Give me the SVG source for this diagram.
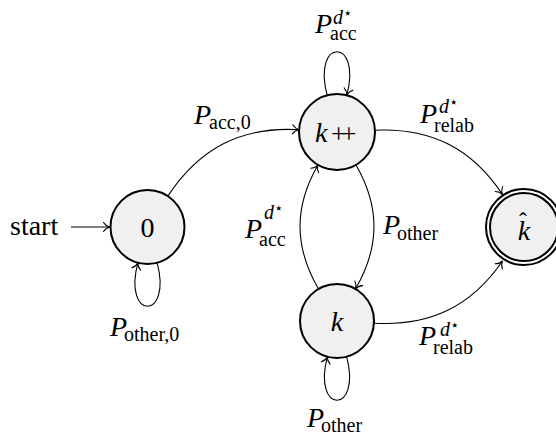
<svg xmlns="http://www.w3.org/2000/svg" width="556" height="439" viewBox="0 0 556 439" font-family="'Liberation Serif', 'DejaVu Serif', serif">
  <defs>
    <marker id="tip" viewBox="-8 -6 10 12" markerWidth="10" markerHeight="12" refX="0" refY="0" orient="auto" markerUnits="userSpaceOnUse">
      <path d="M -6.5,-4.5 C -4.5,-1.6 -1.6,-0.3 0,0 C -1.6,0.3 -4.5,1.6 -6.5,4.5" fill="none" stroke="#000" stroke-width="1.1" stroke-linecap="round"/>
    </marker>
    <style>
      .node { fill: #f0f0f0; stroke: #000; stroke-width: 2; }
      .edge { fill: none; stroke: #000; stroke-width: 1.1; marker-end: url(#tip); }
      text { font-family: "Liberation Serif", "DejaVu Serif", serif; fill: #000; }
      .big { font-size: 28px; }
      .sub { font-size: 20px; }
      .it { font-style: italic; }
      .star { font-family: "DejaVu Sans", sans-serif; font-size: 15px; font-style: normal; }
    </style>
  </defs>

  <!-- connectors -->
  <g id="edges">
    <line class="edge" x1="71" y1="227" x2="110" y2="227"/>
    <!-- 0 -> k++ -->
    <path class="edge" d="M 167.9,196.1 C 199.6,148 241.6,126.3 299.1,129.7"/>
    <!-- 0 self loop -->
    <path class="edge" d="M 157.1,262.7 C 172.6,320.7 122.4,320.7 137.9,262.7"/>
    <!-- k++ self loop -->
    <path class="edge" d="M 327.2,95.3 C 311.7,37.3 362.3,37.3 346.8,95.3"/>
    <!-- k++ -> k-hat -->
    <path class="edge" d="M 375,130.2 C 430.7,127.6 471.8,148.2 502.5,194.5"/>
    <!-- k++ -> k -->
    <path class="edge" d="M 356,164.9 C 380.3,207 379.8,246.9 355.5,289"/>
    <!-- k -> k++ -->
    <path class="edge" d="M 318.5,289 C 294.2,246.9 293.7,207 318,164.9"/>
    <!-- k -> k-hat -->
    <path class="edge" d="M 373.9,323.2 C 429.4,326.5 470.9,307 502.5,261"/>
    <!-- k self loop -->
    <path class="edge" d="M 346.6,356.7 C 362.1,414.7 311.9,414.7 327.4,356.7"/>
  </g>

  <g id="start-label">
    <text class="big" x="10" y="235">start</text>
  </g>

  <g id="node-0">
    <circle class="node" cx="147.5" cy="227" r="37"/>
    <text class="big" x="147.5" y="237" text-anchor="middle">0</text>
  </g>

  <g id="node-kpp">
    <circle class="node" cx="337" cy="132" r="38"/>
    <text class="big it" x="315" y="142">k</text>
    <text x="331" y="143" font-size="27" letter-spacing="-5">++</text>
  </g>

  <g id="node-k">
    <circle class="node" cx="337" cy="321" r="37"/>
    <text class="big it" x="337" y="331" text-anchor="middle">k</text>
  </g>

  <g id="node-khat">
    <circle cx="524" cy="227" r="36" fill="#f0f0f0" stroke="#000" stroke-width="6"/>
    <circle cx="524" cy="227" r="36" fill="none" stroke="#fff" stroke-width="2"/>
    <text class="big it" x="524" y="240" text-anchor="middle">k</text>
    <text x="523" y="229" font-size="24" text-anchor="middle">ˆ</text>
  </g>

  <!-- edge labels -->
  <g id="label-kpp-loop">
    <text class="big it" x="315" y="33">P</text>
    <text class="sub" x="333" y="24"><tspan class="it">d</tspan><tspan class="star" dy="-6">⋆</tspan></text>
    <text class="sub" x="330" y="40">acc</text>
  </g>
  <g id="label-0-kpp">
    <text class="big it" x="194" y="124">P</text>
    <text class="sub" x="209" y="129">acc,0</text>
  </g>
  <g id="label-kpp-khat">
    <text class="big it" x="420" y="123">P</text>
    <text class="sub" x="439" y="113"><tspan class="it">d</tspan><tspan class="star" dy="-6">⋆</tspan></text>
    <text class="sub" x="434" y="132">relab</text>
  </g>
  <g id="label-k-kpp">
    <text class="big it" x="245" y="238">P</text>
    <text class="sub" x="264" y="219"><tspan class="it">d</tspan><tspan class="star" dy="-6">⋆</tspan></text>
    <text class="sub" x="259" y="246">acc</text>
  </g>
  <g id="label-kpp-k">
    <text class="big it" x="383" y="234">P</text>
    <text class="sub" x="397" y="240">other</text>
  </g>
  <g id="label-k-khat">
    <text class="big it" x="419" y="345">P</text>
    <text class="sub" x="440" y="336"><tspan class="it">d</tspan><tspan class="star" dy="-6">⋆</tspan></text>
    <text class="sub" x="433" y="354">relab</text>
  </g>
  <g id="label-0-loop">
    <text class="big it" x="110" y="336">P</text>
    <text class="sub" x="124" y="341">other,0</text>
  </g>
  <g id="label-k-loop">
    <text class="big it" x="307" y="427">P</text>
    <text class="sub" x="321" y="432">other</text>
  </g>
</svg>
